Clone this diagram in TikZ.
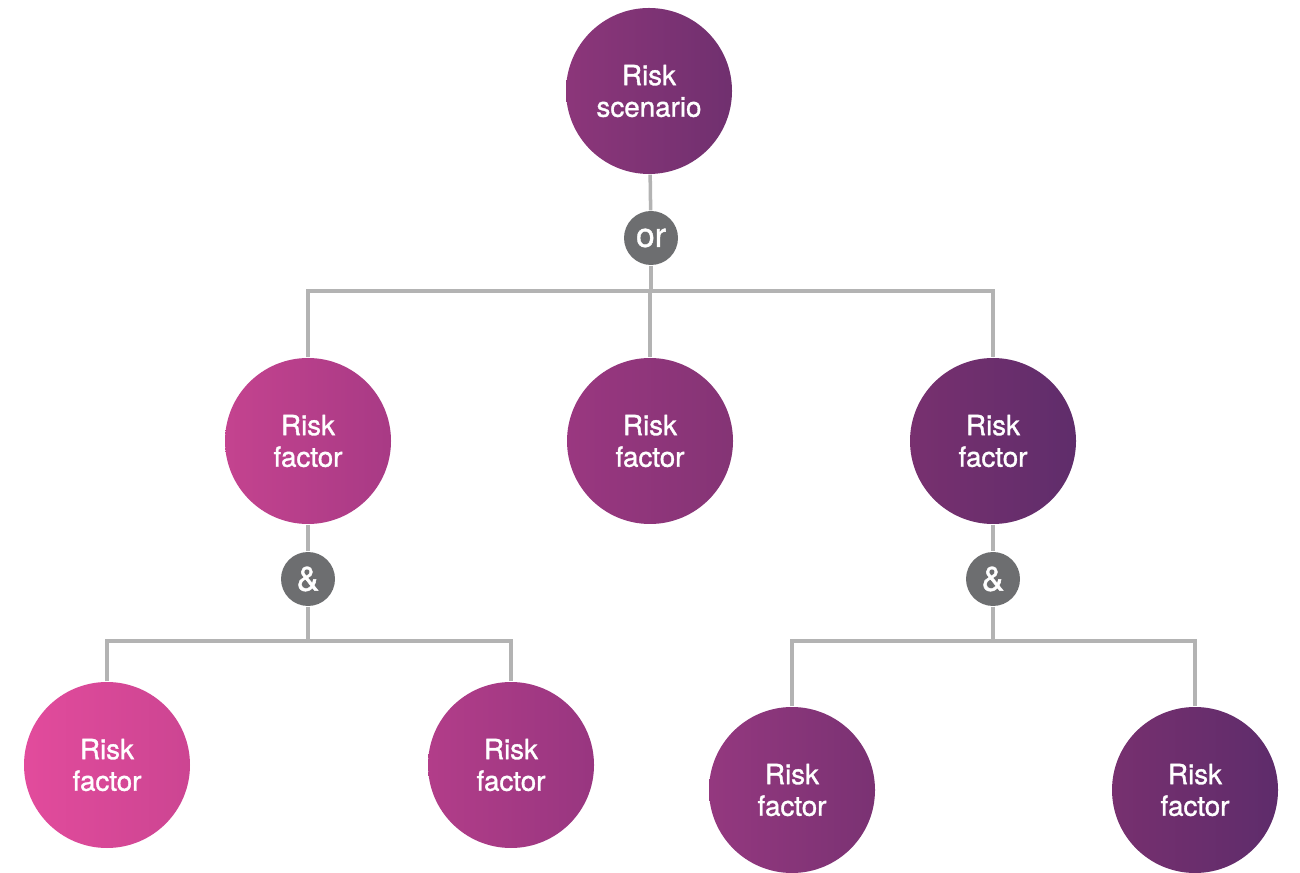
\documentclass[tikz,border=0pt]{standalone}
\usepackage{fontspec}
\setmainfont{TeX Gyre Heros}
\newfontfamily\riskfont{TeX Gyre Heros}[FakeBold=1.2]
\usepackage{tikz}
\usetikzlibrary{positioning, calc}
\definecolor{gatefill}{RGB}{109,110,112}
\definecolor{linkgray}{RGB}{179,179,179}
% gradient stops, left to right
\definecolor{scenL}{RGB}{140,54,122}  \definecolor{scenR}{RGB}{112,48,111}
\definecolor{faL}{RGB}{196,67,143}    \definecolor{faR}{RGB}{168,58,133}
\definecolor{fbL}{RGB}{154,55,128}    \definecolor{fbR}{RGB}{132,52,117}
\definecolor{fcL}{RGB}{120,48,111}    \definecolor{fcR}{RGB}{95,45,107}
\definecolor{fdL}{RGB}{226,75,156}    \definecolor{fdR}{RGB}{204,69,146}
\definecolor{feL}{RGB}{178,61,137}    \definecolor{feR}{RGB}{152,54,128}
\definecolor{ffL}{RGB}{148,56,127}    \definecolor{ffR}{RGB}{122,50,115}
\definecolor{fgL}{RGB}{119,48,111}    \definecolor{fgR}{RGB}{94,44,107}
\tikzstyle{risk} = [circle, minimum size=1.66cm, inner sep=0pt, align=center, text=white, font=\riskfont\fontsize{7.9}{9}\selectfont]
\tikzstyle{gate} = [circle, minimum size=0.54cm, inner sep=0pt, fill=gatefill, text=white, font=\riskfont\fontsize{9.6}{10}\selectfont]
\tikzstyle{link} = [draw=linkgray, line width=1pt]
\tikzset{grad/.style={left color=#1L, right color=#1R}}

\begin{document}
\begin{tikzpicture}
            \useasboundingbox (0,0) rectangle (13,8.72);
            % top event
            \node[risk, grad=scen] (scen) at (6.49,7.81) {Risk\\scenario};
            \node[gate] (or) at (6.51,6.34) {or};
            % middle row
            \node[risk, grad=fa] (fa) at (3.08,4.31) {Risk\\factor};
            \node[risk, grad=fb] (fb) at (6.50,4.31) {Risk\\factor};
            \node[risk, grad=fc] (fc) at (9.93,4.31) {Risk\\factor};
            \node[gate] (andL) at (3.08,2.93) {\&};
            \node[gate] (andR) at (9.93,2.93) {\&};
            % bottom row
            \node[risk, grad=fd] (fd) at (1.07,1.07) {Risk\\factor};
            \node[risk, grad=fe] (fe) at (5.11,1.07) {Risk\\factor};
            \node[risk, grad=ff] (ff) at (7.92,0.82) {Risk\\factor};
            \node[risk, grad=fg] (fg) at (11.95,0.82) {Risk\\factor};
            \coordinate (barTop) at (6.51,5.81);
            \coordinate (barL) at (3.08,2.31);
            \coordinate (barR) at (9.93,2.31);
            % connectors
            \path[link] (scen) -- (or);
            \path[link] (or) -- (barTop);
            \path[link] (fa.north) |- (barTop) -| (fc.north);
            \path[link] (barTop -| fb.north) -- (fb.north);
            \path[link] (fa) -- (andL);
            \path[link] (andL) -- (barL);
            \path[link] (fd.north) |- (barL) -| (fe.north);
            \path[link] (fc) -- (andR);
            \path[link] (andR) -- (barR);
            \path[link] (ff.north) |- (barR) -| (fg.north);
        \end{tikzpicture}
\end{document}
